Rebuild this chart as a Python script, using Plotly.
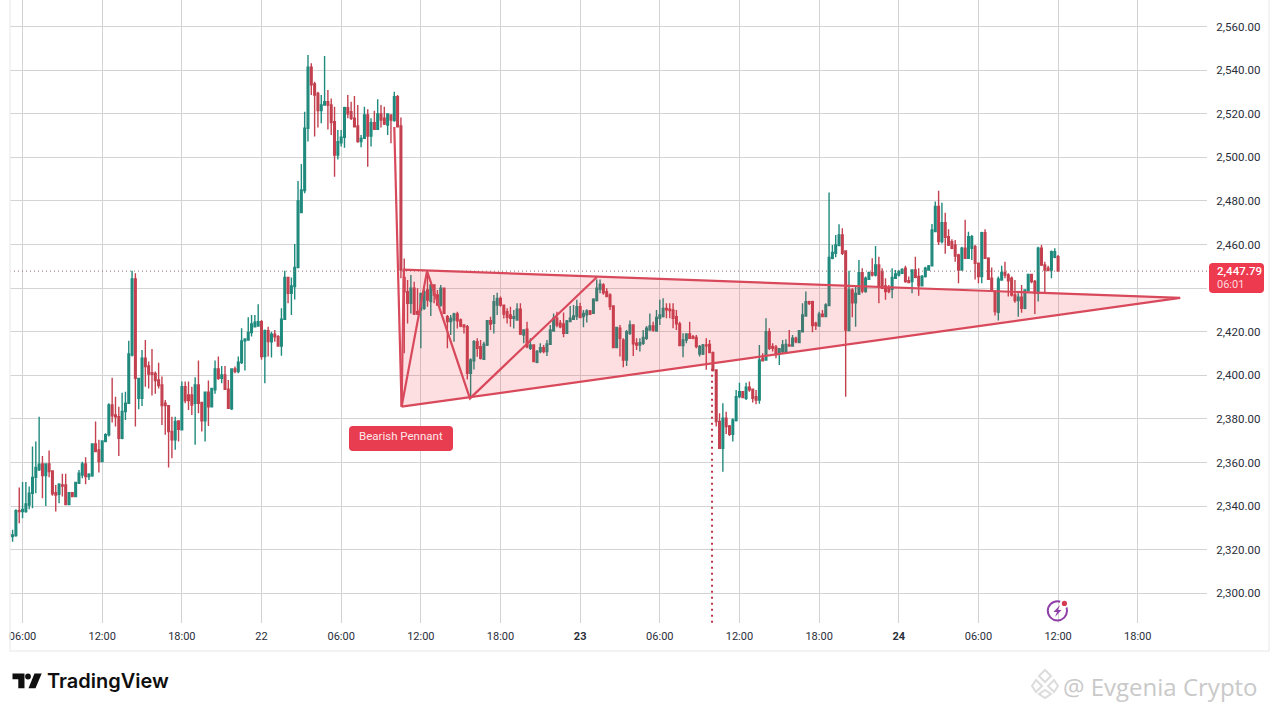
import pandas as pd
import plotly.graph_objects as go

# ---------- data ----------
opens = [
 2328,2326,2326.5,2337.9,2337.5,2337.5,2340.5,2345.9,2353.2,2356.6,2359.3,2354,2359.3,2356.1,2346.2,2345.4,2349.7,2349.7,2340.7,2346.2,
 2344.4,2350.5,2354.3,2359.3,2353.5,2353.9,2368.5,2365.8,2360.4,2369.6,2372.7,2386.4,2381.8,2381,2371.1,2383.4,2387.2,2409.3,2444.2,2389.5,
 2389.5,2407.8,2404.3,2401.2,2400.9,2397.9,2395.6,2387.2,2386.1,2374.2,2370.4,2379.1,2375,2394.8,2391,2391,2387.2,2395.6,2387.6,2379.1,
 2392.2,2385.6,2393.3,2402.9,2398.6,2400.2,2393.6,2384.6,2402.9,2401.7,2405.8,2415.8,2416.2,2419.6,2422.3,2422.6,2424.6,2408.6,2420.5,
 2415.4,2418.9,2417.7,2413.4,2425.7,2444.9,2437.6,2440.7,2449.5,2474.7,2484.7,2513.3,2541.3,2533.6,2529.3,2521.4,2524,2525.5,2524,2516.3,
 2501,2506.7,2509.2,2522.8,2520.9,2517.9,2514.4,2507.2,2508.7,2519.4,2509.8,2515.9,2512.8,2519.9,2517.9,2514.8,2519.4,2516.8,2527.8,2514.4,
 2444.9,2438.3,2433,2439.9,2429.2,2429.9,2430.7,2439.1,2433.8,2441.4,2436.8,2432.2,2439.9,2426.9,2424.6,2425.4,2428.1,2425.4,2423.1,2422.3,
 2400.9,2406.7,2415.4,2413.1,2407.3,2413.9,2425,2423.8,2432.2,2435.3,2432.2,2429.2,2427.7,2426.1,2425.4,2430.3,2418.5,2421.1,
 2412.4,2413.9,2406,2410.9,2412.7,2410.9,2414.2,2420.3,2426.2,2423.9,2423.5,2419.3,2424.6,2425.7,2426.9,2431.5,2426.9,2427.7,2429.5,2428.4,
 2434.3,2439.5,2441.4,2438.4,2436.9,2431.8,2412.7,2421.6,2416.2,2407,2419.3,2423.1,2414.7,2413.9,2414.7,2417,2420.8,2422.6,2420.3,2426.2,
 2426.9,2430.7,2430.3,2430,2426.9,2423.6,2413.6,2416.2,2419,2417.7,2417.4,2409.8,2409.8,2413.9,2414.2,2410.4,2402.5,2378.8,2366.5,2380.3,
 2376.8,2372.9,2379.2,2390.2,2392.5,2389.5,2394.5,2393.6,2390.2,2388.7,2407.8,2407,2420,2413.2,2412.9,2410.1,
 2410.9,2410.9,2413.9,2413.4,2417,2415,2420,2427.2,2433.8,2433.8,2423.9,2422.6,2428,2426.9,2432,2453.7,2456,2459.5,2464.4,2457,
 2420.5,2439.1,2433.3,2437.3,2447.1,2438.4,2444,2447.1,2446,2450.6,2447.6,2441,2439.9,2439.4,2444.5,2446,2446.8,2449.1,2443.4,2443,
 2448.3,2445.3,2441,2445.3,2448.3,2450.2,2465.9,2477.4,2461.3,2470,2463.6,2461.3,2459.8,2455.2,2448.3,2458.3,2453.7,2458.3,2459,2451.4,
 2445.3,2465.4,2453.7,2444.5,2438.4,2428.9,2443.7,2447.2,2446,2444.5,2436.8,2434.3,2435.8,2430.7,2438.8,2446.3,2443,2437.6,2458.3,2450.6,
 2449.1,2448.3,2454.1,2454.4,
]
highs = [
 2332,2329.1,2338.5,2348.5,2351,2351,2349,2367.3,2369.6,2381,2363,2359.3,2365.5,2356.1,2349.7,2350.5,2354.8,2354.8,2346.2,2346.2,
 2350.8,2356.6,2360.4,2362.4,2355.1,2368.5,2378.8,2370.4,2369.9,2373.4,2387.2,2398.9,2390.2,2385.6,2392,2392.5,2415.8,2447.9,2446.8,2398.6,
 2411.6,2416.2,2406.3,2412.1,2401.7,2405.8,2399.4,2388.7,2386.1,2381,2381,2379.1,2397.1,2397.1,2397.1,2394.8,2399.1,2406.8,2387.6,2392.5,
 2397.6,2394,2406.8,2408.6,2404.3,2404.3,2397.9,2403.2,2404,2408.6,2421.6,2417,2426.6,2427.7,2427.7,2432.6,2425.4,2421,2422.3,
 2420,2420.8,2418.5,2430.7,2448,2444.9,2444.9,2460.2,2489.1,2496.9,2520.9,2546.9,2543.1,2534.7,2530.1,2528.6,2546.5,2530.9,2527,2523.2,
 2512.5,2512.5,2523.2,2528.6,2525.5,2528.1,2524,2510.2,2523.2,2522,2517.9,2521.4,2526.6,2524,2523.2,2520.2,2519.4,2530.1,2528.6,2518.3,
 2453.6,2443.7,2446,2442.9,2439.9,2437.6,2439.9,2447.5,2442.2,2441.4,2439.1,2441.4,2439.9,2427.7,2427.7,2428.7,2429.2,2426.1,2423.1,2423.1,
 2407.8,2416.2,2417,2416.2,2415.4,2425.4,2426.9,2436.8,2437.9,2436.1,2432.2,2430.7,2431.5,2429.9,2433,2433,2421.1,2424.6,
 2417,2413.9,2411.6,2414.7,2413.9,2416.2,2423.1,2428.4,2429.2,2425.4,2428.8,2425.4,2431.8,2432.3,2434.6,2433.3,2430,2430.3,2430,2435.3,
 2444,2444,2442.2,2439.9,2437.6,2431.8,2421.9,2423.1,2417,2420.8,2425.1,2423.1,2417,2417,2420.8,2422.6,2428.4,2424.6,2430,2434.6,
 2435.3,2433,2433,2433,2430,2424.6,2419.3,2419.3,2424.6,2418.5,2418.5,2413.9,2414.4,2417,2416.2,2410.9,2402.5,2382.6,2387.2,2383.3,
 2377.2,2380.3,2393.3,2396.6,2392.5,2396.6,2397.1,2394,2393.3,2413.9,2410.1,2426.2,2421.6,2414.7,2413.9,2412.4,
 2416.2,2416.5,2420.8,2418.5,2417.7,2420.8,2433,2438.4,2434.2,2434.2,2424.6,2429.2,2430,2433,2483.8,2459.8,2464.4,2469.3,2467.4,2457,
 2448,2439.9,2440.7,2452.9,2449.1,2445.3,2447.6,2453.7,2459.3,2454.4,2449.1,2444.5,2441.4,2449.1,2448.3,2448.3,2449.1,2450.2,2445.3,2448.6,
 2454.4,2449.1,2446,2449.8,2450.6,2469.4,2479.7,2484.7,2479.2,2474.6,2467,2462.4,2462.1,2455.7,2459,2471.3,2465.9,2464.4,2459.8,2451.7,
 2465.9,2467,2454.1,2449.5,2439.1,2445.3,2450.2,2452.1,2446.8,2445.3,2443.7,2437.6,2441.4,2439.5,2446.5,2446.5,2443.7,2459,2459.8,2452.1,
 2450.2,2457.2,2458.3,2455.2,
]
lows = [
 2326,2323.7,2326,2332.1,2334.4,2337,2338.5,2339,2345.9,2356.1,2343.6,2340.1,2353.2,2344.7,2337.5,2341.3,2344.4,2340.7,2340.7,2344.4,
 2344.1,2350.5,2352.8,2350,2352,2353.5,2365,2355.4,2360.4,2369.6,2371.9,2378.3,2376.5,2363,2370.7,2379.5,2387.2,2408.6,2376.5,2384.4,
 2385.9,2394.8,2394,2390.7,2391.5,2394,2377.2,2372.7,2357.7,2362,2365.8,2369.6,2375,2387.2,2384.1,2381.8,2368.1,2382.6,2374.2,2369.6,
 2376.8,2385.6,2391.5,2397.9,2396.4,2393.6,2384.9,2384.1,2400.9,2400.9,2405.2,2402.2,2416.2,2417.8,2422,2422.3,2407.1,2396.4,2408.6,
 2408.2,2415.4,2413.1,2409,2425.7,2433,2427.7,2434.8,2449,2474.6,2483.5,2507.2,2528.6,2509.5,2513.7,2515.6,2524,2512.8,2510.2,2491.1,
 2499,2504.9,2504.4,2517.9,2517.1,2513.7,2506.7,2504.6,2508.7,2495.7,2504.9,2512.8,2512.8,2513.7,2514.8,2510.2,2506.4,2516.3,2513.7,2444.5,
 2410.1,2423.8,2428.4,2427.7,2427.7,2412.4,2429.9,2431.5,2427.2,2433,2432.2,2431.5,2428.1,2412.4,2418.5,2415.4,2421.5,2422,2419.2,2398.1,
 2390.2,2402.7,2408.5,2407.3,2407,2413.4,2420.8,2419.2,2427.7,2431.5,2426.1,2423.8,2422.3,2421.5,2425.4,2418.5,2414.7,2412.4,
 2411.6,2406,2405.5,2410.1,2410.1,2408.9,2413.9,2420,2422,2421.6,2417.4,2419,2424.6,2425.4,2425.4,2426.2,2422,2424.2,2427.7,2428.1,
 2433.8,2437.6,2436.9,2435.8,2430,2412.4,2412.7,2408.6,2403.7,2404.3,2418.5,2408.9,2411.6,2410.9,2413.9,2416.2,2420.8,2420,2420,2423.1,
 2426.5,2426.2,2426.2,2421.6,2420.8,2413.5,2408.3,2414.7,2417,2416.5,2412.4,2408.6,2409.3,2402.5,2410.1,2401.7,2376.5,2366.2,2355.8,2373.1,
 2372.2,2369.6,2378.8,2389.5,2389.5,2388.7,2392.5,2387.5,2386.7,2386.9,2406.3,2406.7,2411.6,2410.9,2407.8,2404.7,
 2410.1,2410.9,2413.4,2413.4,2414.7,2414.7,2420,2427.2,2432.3,2419.7,2420.8,2422.6,2426.6,2426.6,2431.8,2453.2,2454.1,2459.5,2455.2,2390.2,
 2420.5,2426.6,2422.3,2436.8,2437.6,2437.9,2443.7,2445.3,2445.3,2433,2439.9,2434.6,2437.6,2435.3,2444.5,2445.3,2446.5,2442.5,2442.2,2437.6,
 2444.5,2436.5,2440.7,2444.9,2448,2450.2,2465.9,2459.8,2460.5,2455.7,2459.3,2457.8,2452.1,2442.2,2448,2453.7,2453.4,2452.9,2444,2442.2,
 2442.2,2453.4,2443.7,2438.4,2427.4,2425.1,2443.7,2444.5,2436.1,2436.1,2433.3,2426.9,2428.7,2430.3,2438.4,2442.2,2428.1,2433.8,2450.1,2437.6,
 2448,2444.5,2453.7,2447.8,
]
closes = [
 2326.3,2326.8,2337.9,2337.5,2338.5,2341,2345.9,2353.2,2357.7,2359.2,2354,2359.3,2355.8,2345.6,2345.1,2350,2349.2,2340.7,2346.2,2344.4,
 2350.8,2355.1,2359.3,2353.5,2354.6,2368.5,2365,2360.4,2369.9,2372.7,2386.4,2381.4,2381,2371.1,2383.4,2387.2,2409.8,2444.2,2398.6,2398.6,
 2407.8,2404,2400.6,2400.5,2397.6,2395.3,2386.1,2386.1,2374.2,2370.4,2378.8,2375.2,2394.8,2388.4,2388.4,2386.4,2395.6,2387.2,2379.1,2392.2,
 2385.6,2394,2402.9,2398.6,2400.2,2393.6,2384.9,2402.9,2401.7,2406,2415.8,2416.7,2419.7,2423.6,2424.3,2424.6,2408.6,2420.5,2415.5,
 2418.9,2417.7,2413.4,2425.7,2444.9,2437.6,2441,2449.5,2480,2485,2513.3,2541.3,2533.2,2528.6,2521.4,2524,2525.5,2524,2515.9,2501,
 2507.2,2509.2,2522.8,2519.9,2517.9,2514,2507.2,2508.7,2519.4,2509.8,2515.9,2512.8,2519.9,2517.1,2515.3,2519.9,2517.1,2527.8,2514,2448.3,
 2438.3,2433,2439.9,2428.1,2428.1,2437.6,2438.4,2434.5,2441.4,2436.8,2432.2,2439.9,2428.4,2424.6,2426.1,2428.1,2425,2422.6,2422.3,2400.9,
 2407,2415.4,2412.4,2407.8,2414.3,2425,2423.5,2433.8,2435.3,2432.2,2428.1,2426.6,2426.1,2426.9,2430.3,2418.9,2420.8,2413.1,
 2413.9,2406.3,2410.9,2412.7,2410.9,2414.4,2420.8,2426.2,2423.1,2422.3,2419.3,2424.9,2426.2,2427.2,2431.5,2426.5,2428.4,2429.5,2428.1,2434.9,
 2439.9,2441.8,2437.9,2436.1,2431.5,2412.7,2421.9,2417,2407,2420,2423.1,2414.4,2413.9,2415,2417.4,2421.6,2422.6,2420.8,2426.5,2427.7,
 2430.7,2430,2429.7,2426.2,2423.6,2413.6,2416.2,2419,2417,2417,2413.2,2413.2,2413.9,2413.5,2410.4,2402.2,2378.8,2366.5,2380.3,2376.5,
 2372.9,2379.5,2390.2,2392.5,2389.8,2394.5,2393.3,2389.5,2388.7,2407,2406.7,2420,2412.4,2412.4,2410.1,2412.2,
 2413.9,2414.2,2413.4,2417,2415.4,2420.5,2427.7,2433.8,2433,2422.8,2422.8,2428,2426.9,2432.3,2454.1,2456.3,2459.8,2464.4,2456,2420.8,
 2439.1,2433.3,2437.6,2447.1,2438.7,2444.5,2447.1,2446,2450.6,2440.7,2439.9,2438.4,2438.4,2444.9,2446.5,2447.6,2448.6,2443,2442.5,2448.3,
 2444.9,2441,2445.3,2449.1,2450.2,2466.7,2477.4,2461.3,2470,2463.3,2459.8,2458.3,2454.7,2448.3,2458.3,2453.7,2463.6,2463.6,2451.4,2445.3,
 2465.4,2453.7,2444,2438.7,2429.2,2444.2,2447.2,2446,2443.4,2436.8,2434.3,2435.8,2430.7,2439.1,2446.3,2443,2437.6,2458.3,2450.6,2448.3,
 2448,2456.7,2456.7,2447.79,
]
last_candle = "2025-06-24 12:00"
price_ticks = [2300, 2320, 2340, 2360, 2380, 2400, 2420, 2440, 2460, 2480, 2500, 2520, 2540, 2560]
price_labels = ["2,300.00", "2,320.00", "2,340.00", "2,360.00", "2,380.00", "2,400.00", "2,420.00", "",
                "2,460.00", "2,480.00", "2,500.00", "2,520.00", "2,540.00", "2,560.00"]
time_ticks = ["2025-06-21 06:00", "2025-06-21 12:00", "2025-06-21 18:00", "2025-06-22 00:00",
              "2025-06-22 06:00", "2025-06-22 12:00", "2025-06-22 18:00", "2025-06-23 00:00",
              "2025-06-23 06:00", "2025-06-23 12:00", "2025-06-23 18:00", "2025-06-24 00:00",
              "2025-06-24 06:00", "2025-06-24 12:00", "2025-06-24 18:00"]
time_labels = ["06:00", "12:00", "18:00", "22", "06:00", "12:00", "18:00", "<b>23</b>",
               "06:00", "12:00", "18:00", "<b>24</b>", "06:00", "12:00", "18:00"]
last_price = 2447.79
swing_t = ["2025-06-22 10:00", "2025-06-22 10:33", "2025-06-22 12:28", "2025-06-22 15:42", "2025-06-23 01:16"]
swing_p = [2513.9, 2385.6, 2447.8, 2389.4, 2445.1]
pennant_t = ["2025-06-22 10:33", "2025-06-22 10:43", "2025-06-24 21:12", "2025-06-22 10:33"]
pennant_p = [2385.6, 2448.5, 2435.5, 2385.6]
target_t = ["2025-06-23 09:56", "2025-06-23 09:56"]
target_p = [2403.0, 2286.4]
x_range = ["2025-06-21 05:03:18", "2025-06-24 23:13:00"]
y_range = [2286.38, 2572.15]

# ---------- layout helpers ----------
W, H, L, R, B = 1273, 710, 10, 1207, 623
GREEN, RED = "#1f8a7d", "#c3404f"
LINE = "#d8495b"

def fx(x):
    return (x - L) / (R - L)

def fy(y):
    return (B - y) / B

def path(points, close=True):
    s = "M" + " L".join(f"{fx(x):.5f},{fy(y):.5f}" for x, y in points)
    return s + (" Z" if close else "")

def deco(points, fill=None, line=None, width=0, close=True):
    return dict(type="path", xref="paper", yref="paper", path=path(points, close), layer="above",
                fillcolor=fill if fill else "rgba(0,0,0,0)",
                line=dict(color=line if line else "rgba(0,0,0,0)", width=width))

def disc(cx, cy, r, fill=None, line=None, width=0):
    return dict(type="circle", xref="paper", yref="paper", layer="above",
                x0=fx(cx - r), x1=fx(cx + r), y0=fy(cy + r), y1=fy(cy - r),
                fillcolor=fill if fill else "rgba(0,0,0,0)",
                line=dict(color=line if line else "rgba(0,0,0,0)", width=width))

def rounded(x0, y0, x1, y1, r, fill):
    pts = [(x0 + r, y0), (x1 - r, y0), (x1 - r * .3, y0 + r * .3), (x1, y0 + r), (x1, y1 - r),
           (x1 - r * .3, y1 - r * .3), (x1 - r, y1), (x0 + r, y1), (x0 + r * .3, y1 - r * .3),
           (x0, y1 - r), (x0, y0 + r), (x0 + r * .3, y0 + r * .3)]
    return deco(pts, fill=fill)

def label(x, y, text, size, color, anchor="left", family="Roboto", weight=400):
    return dict(xref="paper", yref="paper", x=fx(x), y=fy(y), text=text, showarrow=False,
                xanchor=anchor, yanchor="middle", align=anchor,
                font=dict(family=family, size=size, color=color, weight=weight))

times = pd.date_range(end=last_candle, periods=len(opens), freq="15min")

fig = go.Figure()
fig.add_trace(go.Candlestick(
    x=times, open=opens, high=highs, low=lows, close=closes, whiskerwidth=0,
    increasing=dict(line=dict(color=GREEN, width=1.4), fillcolor=GREEN),
    decreasing=dict(line=dict(color=RED, width=1.4), fillcolor=RED),
    showlegend=False))
fig.add_trace(go.Scatter(x=x_range, y=[last_price, last_price], mode="lines", showlegend=False,
                         line=dict(color="#8c6a6e", width=1, dash="1px,3px")))
fig.add_trace(go.Scatter(x=pennant_t, y=pennant_p, mode="lines", fill="toself", showlegend=False,
                         fillcolor="rgba(242,54,69,0.16)", line=dict(color=LINE, width=2.2)))
fig.add_trace(go.Scatter(x=swing_t, y=swing_p, mode="lines", showlegend=False,
                         line=dict(color=LINE, width=2.2)))
fig.add_trace(go.Scatter(x=target_t, y=target_p, mode="lines", showlegend=False,
                         line=dict(color="#c2394b", width=2, dash="2px,4px")))

shapes = [
    deco([(10, 0), (10, 651), (1269, 651), (1269, 0)], line="#efefef", width=1.5, close=False),
    rounded(349, 426, 453, 451, 3, "#e83c50"),
    rounded(1209, 263, 1264, 293, 3, "#ee3a4f"),
    # TradingView logo
    deco([(12.5, 673.5), (24.5, 673.5), (24.5, 688.3), (18.3, 688.3), (18.3, 679.3), (12.5, 679.3)], fill="#0f0f0f"),
    disc(28, 676.5, 2.9, fill="#0f0f0f"),
    deco([(34.5, 673.5), (41.7, 673.5), (35.5, 688.3), (28.5, 688.3)], fill="#0f0f0f"),
    # lightning badge
    disc(1057.4, 610.8, 9.6, line="#8f3fa8", width=2),
    disc(1064.4, 603.4, 4.6, fill="#ffffff"),
    disc(1064.4, 603.4, 2.6, fill="#d63a52"),
    deco([(1060, 605), (1053.5, 612), (1057, 612), (1055, 617), (1061.5, 610), (1058, 610)], fill="#8f3fa8"),
    # watermark emblem
    deco([(1045, 670), (1051, 676), (1045, 682), (1039, 676)], line="#dcdcdc", width=2),
    deco([(1036, 680), (1042, 686), (1036, 692), (1032, 686)], line="#dcdcdc", width=2),
    deco([(1054, 680), (1058, 686), (1054, 692), (1048, 686)], line="#dcdcdc", width=2),
    deco([(1045, 690), (1051, 694), (1045, 698), (1039, 694)], line="#dcdcdc", width=2),
]
annotations = [
    label(400.5, 436.5, "Bearish Pennant", 11.5, "#fde8ea", "center"),
    label(1214.5, 271, "2,447.79", 11.5, "#ffffff", weight=500),
    label(1214.5, 284, "06:01", 11, "#fbd9dc"),
    label(45, 681, "TradingView", 20, "#0f0f0f", family="Inter", weight=600),
    label(1060.5, 686, "@ Evgenia Crypto", 24, "#c9c9c9", family="Open Sans"),
]

fig.update_layout(
    width=W, height=H, autosize=False, showlegend=False, hovermode=False,
    margin=dict(l=L, r=W - R, t=0, b=H - B, pad=0),
    paper_bgcolor="#ffffff", plot_bgcolor="#ffffff",
    shapes=shapes, annotations=annotations,
    xaxis=dict(type="date", range=x_range, rangeslider=dict(visible=False),
               tickmode="array", tickvals=time_ticks, ticktext=time_labels,
               showgrid=True, gridcolor="#d3d3d3", gridwidth=1, zeroline=False, showline=False,
               ticks="outside", ticklen=3, tickcolor="rgba(0,0,0,0)",
               tickfont=dict(family="Roboto", size=11, color="#2a2e39")),
    yaxis=dict(side="right", range=y_range, tickmode="array", tickvals=price_ticks,
               ticktext=price_labels, showgrid=True, gridcolor="#d3d3d3", gridwidth=1,
               zeroline=False, showline=False, ticks="outside", ticklen=6,
               tickcolor="rgba(0,0,0,0)",
               tickfont=dict(family="Roboto", size=11.5, color="#2a2e39")),
)

fig.write_html("out.html", include_plotlyjs=True, config=dict(displayModeBar=False),
               post_script="document.body.style.margin='0';document.body.style.overflow='hidden';")
